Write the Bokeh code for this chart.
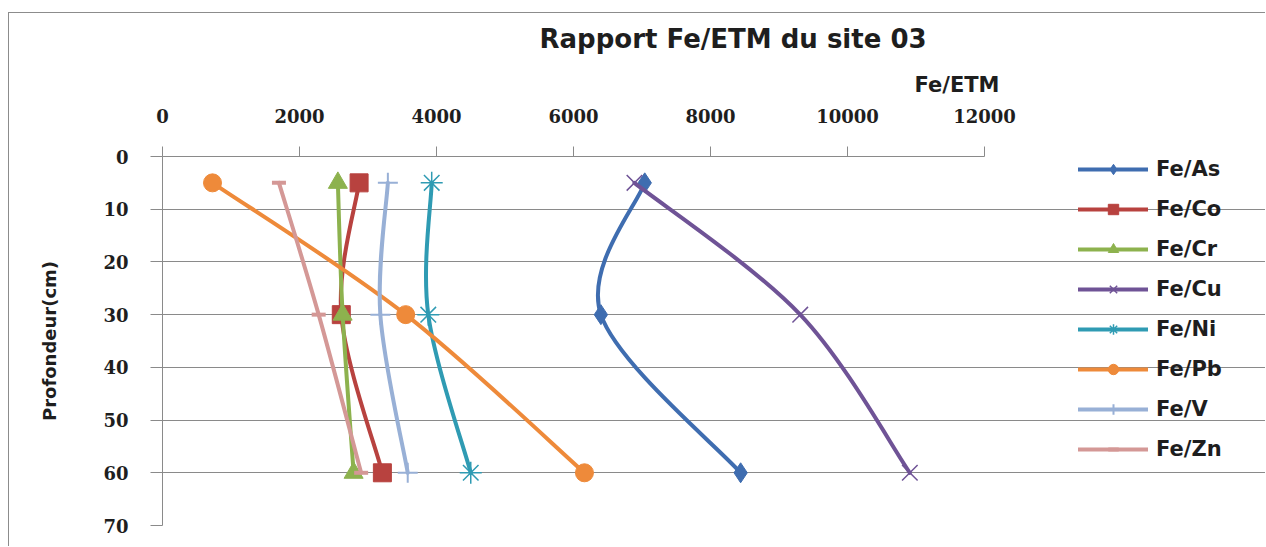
from bokeh.embed import file_html
from bokeh.models import (ColumnDataSource, FixedTicker, Legend, LegendItem,
                          Range1d, Title)
from bokeh.plotting import figure
from bokeh.resources import INLINE

# Sampling depths (cm) and Fe / trace-element ratios at each depth
depths = [5, 30, 60]
fe_as = [7040, 6400, 8440]
fe_co = [2870, 2610, 3210]
fe_cr = [2560, 2630, 2790]
fe_cu = [6890, 9310, 10910]
fe_ni = [3930, 3880, 4500]
fe_pb = [730, 3550, 6160]
fe_v = [3290, 3180, 3580]
fe_zn = [1700, 2280, 2900]

labels = ["Fe/As", "Fe/Co", "Fe/Cr", "Fe/Cu", "Fe/Ni", "Fe/Pb", "Fe/V", "Fe/Zn"]
x_ticks = [0, 2000, 4000, 6000, 8000, 10000, 12000]
y_ticks = [0, 10, 20, 30, 40, 50, 60, 70]
X_MAX = 12000

# values, colour, marker, marker size, marker line width
styles = [
    (fe_as, "#3F6DB0", "diamond", 20, 1),
    (fe_co, "#B8423F", "square", 18, 1),
    (fe_cr, "#8DB24E", "triangle", 19, 1),
    (fe_cu, "#6F5396", "x", 22, 1.5),
    (fe_ni, "#2F9BB3", "asterisk", 22, 1.5),
    (fe_pb, "#EE8A3A", "circle", 18, 1),
    (fe_v, "#98B0D6", "cross", 20, 2),
    (fe_zn, "#D49896", "dash", 14, 4),
]


def smooth(xs, ys):
    """Cubic Bezier segments through the points (Catmull-Rom smoothing)."""
    pts = list(zip(xs, ys))
    n = len(pts)
    seg = dict(x0=[], y0=[], x1=[], y1=[], cx0=[], cy0=[], cx1=[], cy1=[])
    for i in range(n - 1):
        a = pts[max(i - 1, 0)]
        b = pts[i]
        c = pts[i + 1]
        d = pts[min(i + 2, n - 1)]
        seg["x0"].append(b[0]); seg["y0"].append(b[1])
        seg["x1"].append(c[0]); seg["y1"].append(c[1])
        seg["cx0"].append(b[0] + (c[0] - a[0]) / 6)
        seg["cy0"].append(b[1] + (c[1] - a[1]) / 6)
        seg["cx1"].append(c[0] - (d[0] - b[0]) / 6)
        seg["cy1"].append(c[1] - (d[1] - b[1]) / 6)
    return seg


# chart area starts at (9, 13) inside its border; page coordinates below
OX, OY = 9, 13
W, H = 1266 - OX, 547 - OY
AXIS_L, AXIS_R = 162, 984          # page x of 0 and 12000
FRAME_T, FRAME_B = 155, 525        # page y of depth 0 and 70

# the frame runs to the right edge so the legend can sit inside it;
# the ratio axis and the grid stop at 12000
x_end = X_MAX * (1266 - AXIS_L) / (AXIS_R - AXIS_L)

p = figure(width=W, height=H,
           x_range=Range1d(0, x_end), y_range=Range1d(70, 0),
           x_axis_location="above", output_backend="svg", toolbar_location=None,
           min_border_left=AXIS_L - OX, min_border_right=0,
           min_border_top=FRAME_T - OY, min_border_bottom=547 - FRAME_B)
p.styles = {"margin-left": "8px", "margin-top": "12px",
            "border-left": "1px solid #8C8C8C", "border-top": "1px solid #8C8C8C"}
p.outline_line_color = None
p.background_fill_color = "white"
p.border_fill_color = "white"

grid_col = "#8A8A8A"
for ax, ticks, tick_out in ((p.xaxis[0], x_ticks, 10), (p.yaxis[0], y_ticks, 12)):
    ax.ticker = FixedTicker(ticks=ticks)
    ax.axis_line_color = grid_col
    ax.major_tick_line_color = grid_col
    ax.major_tick_out = tick_out
    ax.major_tick_in = 0
    ax.minor_tick_line_color = None
    ax.major_label_text_font = "DejaVu Serif"
    ax.major_label_text_font_style = "bold"
    ax.major_label_text_font_size = "18px"
    ax.major_label_text_color = "#1E1E1E"

xa = p.xaxis[0]
xa.bounds = (0, X_MAX)
xa.major_label_standoff = 24

ya = p.yaxis[0]
ya.major_label_standoff = 22
ya.axis_label = "Profondeur(cm)"
ya.axis_label_text_font = "DejaVu Sans"
ya.axis_label_text_font_style = "bold"
ya.axis_label_text_color = "#1E1E1E"
ya.axis_label_text_font_size = "18px"
ya.axis_label_standoff = 40

p.xgrid.visible = False
p.ygrid.ticker = FixedTicker(ticks=y_ticks)
p.ygrid.bounds = (0, X_MAX)
p.ygrid.grid_line_color = grid_col
p.ygrid.grid_line_width = 1

# caption of the ratio axis, right-aligned just past the axis end
p.add_layout(Title(text="Fe/ETM", align="right", offset=1266 - 999, standoff=18,
                   text_font="DejaVu Sans", text_font_style="bold",
                   text_font_size="21px", text_color="#1E1E1E"), "above")

p.title.text = "Rapport Fe/ETM du site 03"
p.title.align = "left"
p.title.offset = 539 - AXIS_L
p.title.text_font = "DejaVu Sans"
p.title.text_font_style = "bold"
p.title.text_font_size = "26px"
p.title.text_color = "#1E1E1E"
p.title.standoff = 16

items = []
for name, (vals, col, marker, size, mlw) in zip(labels, styles):
    src = ColumnDataSource(smooth(vals, depths))
    line_r = p.bezier(x0="x0", y0="y0", x1="x1", y1="y1", cx0="cx0", cy0="cy0",
                      cx1="cx1", cy1="cy1", source=src, line_color=col,
                      line_width=4, line_cap="round")
    mk_r = p.scatter(vals, depths, marker=marker, size=size,
                     fill_color=col, line_color=col, line_width=mlw)
    items.append(LegendItem(label=name, renderers=[line_r, mk_r]))

ROW_H, ROW_GAP = 26, 14
leg_top = 156
leg_bottom = leg_top + len(labels) * ROW_H + (len(labels) - 1) * ROW_GAP
legend = Legend(items=items, location=(1078 - AXIS_L, FRAME_B - leg_bottom))
legend.border_line_color = None
legend.background_fill_alpha = 0
legend.padding = 0
legend.margin = 0
legend.glyph_width = 70
legend.glyph_height = ROW_H
legend.label_height = ROW_H
legend.spacing = ROW_GAP
legend.label_standoff = 8
legend.label_text_font = "DejaVu Sans"
legend.label_text_font_style = "bold"
legend.label_text_font_size = "21px"
legend.label_text_color = "#1E1E1E"
p.add_layout(legend, "center")

open("out.html", "w").write(file_html(p, INLINE))
